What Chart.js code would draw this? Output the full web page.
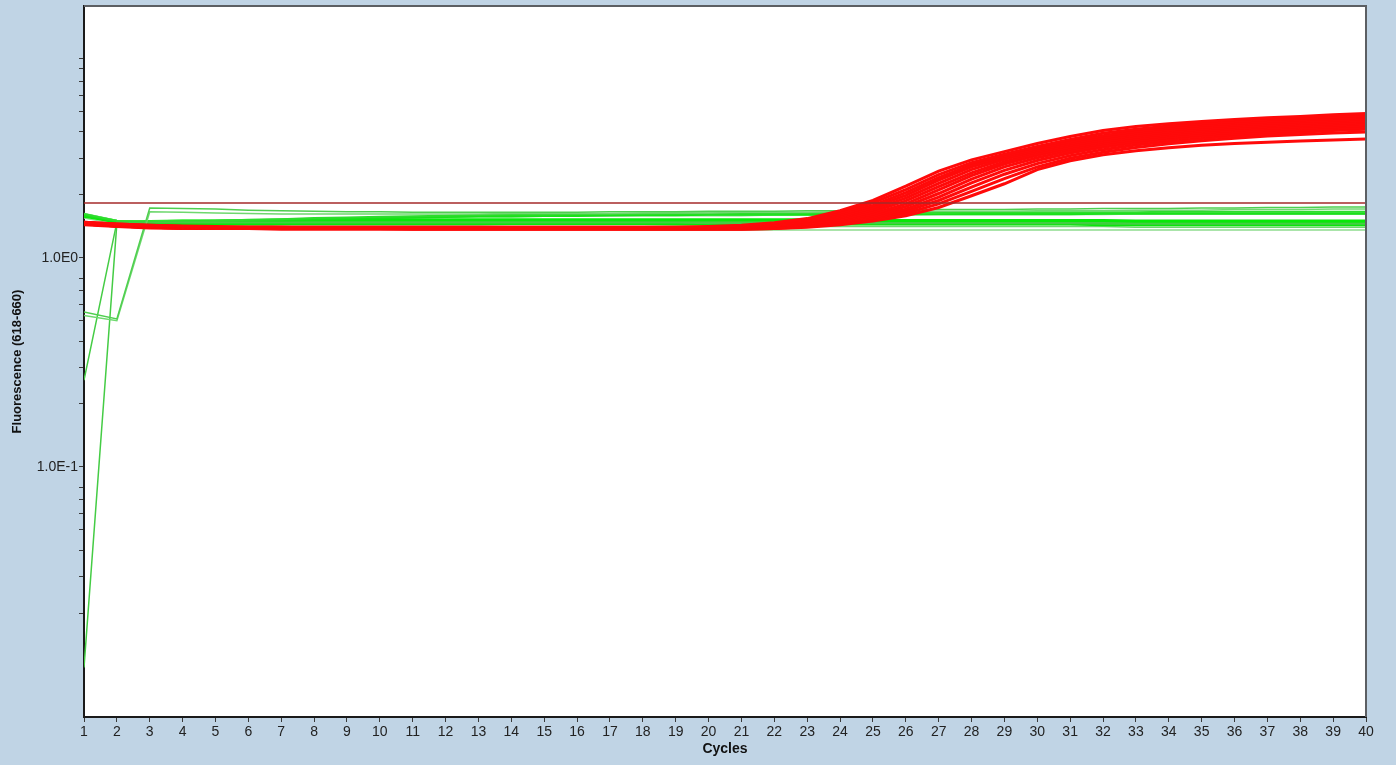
<!DOCTYPE html>
<html>
<head>
<meta charset="utf-8">
<title>Fluorescence (618-660)</title>
<script src="https://cdn.jsdelivr.net/npm/chart.js@4.4.1/dist/chart.umd.min.js"></script>
<style>
  html, body { margin: 0; padding: 0; background: #c0d4e5; overflow: hidden; }
  #wrap { width: 1396px; height: 765px; }
</style>
</head>
<body>
<div id="wrap"><canvas id="ampChart" width="1396" height="765"></canvas></div>
<script>
// cycles 1..40
const cycles = [1,2,3,4,5,6,7,8,9,10,11,12,13,14,15,16,17,18,19,20,21,22,23,24,25,26,27,28,29,30,31,32,33,34,35,36,37,38,39,40];

// y axis ticks (log), only decades get a label
const yTicks = [0.02,0.03,0.04,0.05,0.06,0.07,0.08,0.1,0.2,0.3,0.4,0.5,0.6,0.7,0.8,1,2,3,4,5,6,7,8,9];
const yLabels = { 1: '1.0E0', 0.1: '1.0E-1' };

const threshold = 1.83;

// positive samples (red)
const red1  = [1.48,1.45,1.43,1.42,1.41,1.40,1.40,1.40,1.40,1.40,1.40,1.40,1.40,1.40,1.40,1.40,1.40,1.40,1.40,1.41,1.43,1.47,1.54,1.68,1.88,2.20,2.60,2.94,3.22,3.52,3.80,4.06,4.24,4.38,4.49,4.58,4.67,4.74,4.83,4.90];
const red2  = [1.48,1.45,1.43,1.41,1.40,1.40,1.40,1.40,1.40,1.40,1.40,1.40,1.40,1.40,1.40,1.40,1.40,1.40,1.40,1.40,1.42,1.46,1.52,1.64,1.83,2.12,2.50,2.85,3.13,3.41,3.68,3.94,4.12,4.27,4.39,4.49,4.58,4.65,4.73,4.79];
const red3  = [1.47,1.44,1.42,1.41,1.40,1.40,1.40,1.39,1.39,1.39,1.39,1.39,1.39,1.39,1.39,1.39,1.39,1.39,1.39,1.40,1.41,1.44,1.50,1.61,1.78,2.05,2.42,2.78,3.07,3.34,3.60,3.84,4.03,4.18,4.30,4.40,4.49,4.57,4.64,4.71];
const red4  = [1.47,1.44,1.42,1.41,1.40,1.39,1.39,1.39,1.39,1.39,1.39,1.39,1.39,1.39,1.39,1.39,1.39,1.39,1.39,1.39,1.40,1.43,1.49,1.58,1.74,1.99,2.35,2.72,3.02,3.28,3.53,3.76,3.94,4.09,4.21,4.31,4.40,4.48,4.55,4.62];
const red5  = [1.47,1.44,1.42,1.40,1.39,1.39,1.39,1.39,1.39,1.39,1.39,1.39,1.39,1.39,1.39,1.39,1.39,1.39,1.39,1.39,1.40,1.42,1.48,1.56,1.70,1.93,2.27,2.64,2.96,3.22,3.46,3.68,3.86,4.01,4.13,4.23,4.32,4.40,4.47,4.54];
const red6  = [1.46,1.43,1.41,1.40,1.39,1.39,1.39,1.39,1.39,1.39,1.39,1.39,1.39,1.39,1.39,1.39,1.39,1.39,1.39,1.39,1.39,1.42,1.46,1.53,1.66,1.87,2.19,2.55,2.88,3.15,3.39,3.60,3.78,3.93,4.05,4.15,4.24,4.32,4.39,4.46];
const red7  = [1.46,1.43,1.41,1.40,1.39,1.39,1.39,1.38,1.38,1.38,1.38,1.38,1.38,1.38,1.38,1.38,1.38,1.38,1.38,1.39,1.39,1.41,1.45,1.51,1.62,1.81,2.11,2.47,2.81,3.09,3.33,3.53,3.70,3.85,3.97,4.07,4.16,4.24,4.31,4.38];
const red8  = [1.46,1.43,1.41,1.40,1.39,1.38,1.38,1.38,1.38,1.38,1.38,1.38,1.38,1.38,1.38,1.38,1.38,1.38,1.38,1.38,1.38,1.40,1.44,1.49,1.59,1.76,2.03,2.38,2.72,3.01,3.25,3.45,3.62,3.77,3.89,3.99,4.08,4.16,4.23,4.30];
const red9  = [1.45,1.42,1.40,1.39,1.38,1.38,1.38,1.38,1.38,1.38,1.38,1.38,1.38,1.38,1.38,1.38,1.38,1.38,1.38,1.38,1.38,1.39,1.43,1.48,1.56,1.71,1.95,2.28,2.62,2.92,3.17,3.38,3.55,3.69,3.81,3.91,4.00,4.08,4.15,4.21];
const red10 = [1.45,1.42,1.40,1.39,1.38,1.38,1.38,1.38,1.38,1.38,1.38,1.38,1.38,1.38,1.38,1.38,1.38,1.38,1.38,1.38,1.38,1.39,1.42,1.46,1.54,1.67,1.88,2.18,2.51,2.82,3.08,3.29,3.46,3.60,3.72,3.82,3.91,3.99,4.06,4.12];
const red11 = [1.45,1.42,1.40,1.39,1.38,1.38,1.38,1.38,1.38,1.38,1.37,1.37,1.37,1.37,1.37,1.37,1.37,1.37,1.37,1.37,1.37,1.38,1.41,1.45,1.52,1.63,1.81,2.08,2.39,2.72,2.99,3.20,3.37,3.51,3.63,3.73,3.82,3.89,3.95,4.00];
const red12 = [1.44,1.41,1.39,1.38,1.38,1.38,1.37,1.37,1.37,1.37,1.37,1.37,1.37,1.37,1.37,1.37,1.37,1.37,1.37,1.37,1.37,1.38,1.40,1.44,1.50,1.59,1.74,1.98,2.26,2.64,2.91,3.11,3.25,3.36,3.45,3.52,3.57,3.62,3.66,3.70];

// negative samples (green)
const green1  = [0.55,0.51,1.73,1.72,1.71,1.69,1.68,1.67,1.66,1.66,1.65,1.65,1.65,1.65,1.65,1.65,1.66,1.66,1.66,1.67,1.67,1.67,1.68,1.68,1.69,1.69,1.70,1.70,1.70,1.71,1.71,1.72,1.72,1.72,1.73,1.73,1.74,1.74,1.75,1.75];
const green2  = [0.53,0.50,1.66,1.65,1.64,1.63,1.62,1.62,1.62,1.62,1.62,1.62,1.62,1.63,1.63,1.63,1.63,1.64,1.64,1.64,1.65,1.65,1.65,1.66,1.66,1.66,1.67,1.67,1.67,1.68,1.68,1.68,1.69,1.69,1.69,1.70,1.70,1.70,1.71,1.71];
const green3  = [0.26,1.48,1.48,1.48,1.48,1.48,1.48,1.48,1.48,1.48,1.48,1.48,1.48,1.48,1.48,1.48,1.48,1.48,1.48,1.48,1.48,1.48,1.48,1.47,1.47,1.47,1.47,1.47,1.47,1.47,1.47,1.47,1.46,1.46,1.46,1.46,1.46,1.46,1.46,1.46];
const green4  = [0.011,1.46,1.47,1.47,1.47,1.47,1.47,1.47,1.47,1.47,1.47,1.47,1.47,1.47,1.47,1.47,1.47,1.47,1.47,1.46,1.46,1.46,1.46,1.46,1.46,1.46,1.46,1.46,1.46,1.46,1.46,1.45,1.45,1.45,1.45,1.45,1.45,1.45,1.45,1.45];
const green5  = [1.62,1.50,1.48,1.49,1.50,1.52,1.53,1.55,1.56,1.57,1.58,1.59,1.60,1.61,1.61,1.62,1.62,1.62,1.63,1.63,1.63,1.63,1.64,1.64,1.64,1.64,1.64,1.65,1.65,1.65,1.65,1.65,1.65,1.66,1.66,1.66,1.66,1.66,1.66,1.66];
const green6  = [1.60,1.49,1.48,1.49,1.50,1.51,1.52,1.53,1.54,1.55,1.56,1.57,1.58,1.58,1.59,1.59,1.60,1.60,1.60,1.61,1.61,1.61,1.61,1.61,1.62,1.62,1.62,1.62,1.62,1.62,1.62,1.63,1.63,1.63,1.63,1.63,1.63,1.63,1.63,1.63];
const green7  = [1.63,1.51,1.49,1.50,1.51,1.52,1.53,1.54,1.55,1.55,1.56,1.56,1.57,1.57,1.58,1.58,1.58,1.59,1.59,1.59,1.59,1.60,1.60,1.60,1.60,1.60,1.61,1.61,1.61,1.61,1.61,1.61,1.62,1.62,1.62,1.62,1.62,1.62,1.62,1.62];
const green8  = [1.58,1.49,1.49,1.50,1.50,1.51,1.51,1.52,1.52,1.52,1.52,1.52,1.52,1.52,1.52,1.52,1.52,1.52,1.52,1.52,1.52,1.52,1.52,1.51,1.51,1.51,1.51,1.51,1.51,1.51,1.51,1.51,1.50,1.50,1.50,1.50,1.50,1.50,1.50,1.50];
const green9  = [1.60,1.48,1.46,1.46,1.46,1.46,1.46,1.46,1.46,1.46,1.46,1.46,1.46,1.46,1.46,1.46,1.46,1.46,1.45,1.45,1.45,1.45,1.45,1.45,1.45,1.45,1.45,1.45,1.45,1.45,1.45,1.44,1.44,1.44,1.44,1.44,1.44,1.44,1.44,1.44];
const green10 = [1.55,1.45,1.42,1.41,1.40,1.40,1.39,1.39,1.38,1.38,1.38,1.37,1.37,1.37,1.37,1.37,1.37,1.36,1.36,1.36,1.36,1.36,1.36,1.36,1.36,1.36,1.36,1.36,1.36,1.36,1.36,1.36,1.36,1.36,1.36,1.36,1.36,1.36,1.36,1.36];
const green11 = [1.61,1.50,1.49,1.50,1.50,1.50,1.51,1.51,1.51,1.51,1.51,1.51,1.51,1.51,1.51,1.51,1.50,1.50,1.50,1.50,1.50,1.50,1.50,1.50,1.49,1.49,1.49,1.49,1.49,1.49,1.49,1.49,1.48,1.48,1.48,1.48,1.48,1.48,1.48,1.48];
const green12 = [1.59,1.47,1.45,1.44,1.43,1.43,1.42,1.42,1.42,1.42,1.42,1.42,1.42,1.41,1.41,1.41,1.41,1.41,1.41,1.41,1.41,1.41,1.41,1.41,1.41,1.41,1.41,1.41,1.41,1.41,1.41,1.41,1.40,1.40,1.40,1.40,1.40,1.40,1.40,1.40];
const green13 = [1.60,1.49,1.47,1.47,1.47,1.47,1.47,1.47,1.47,1.47,1.47,1.47,1.47,1.47,1.47,1.47,1.47,1.47,1.47,1.47,1.47,1.47,1.47,1.47,1.47,1.47,1.47,1.47,1.47,1.47,1.47,1.47,1.47,1.47,1.47,1.47,1.47,1.47,1.47,1.47];

const redSeries = [red1, red2, red3, red4, red5, red6, red7, red8, red9, red10, red11, red12];
const greenSeries = [green1, green2, green3, green4, green5, green6, green7, green8, green9, green10, green11, green12, green13];
const greenColors = ['#4fcf4f', '#6fd86f', '#44cc44', '#44cc44', '#2ddd2d', '#19e019', '#7ee07e', '#08e808', '#08e808', '#8fdc8f', '#19e019', '#70d470', '#10e410'];
const greenWidths = [1.5, 1.5, 1.5, 1.5, 2, 2.5, 1.5, 3, 3, 1.5, 2.5, 1.5, 3];

function lineSet(values, color, width) {
  return {
    data: values,
    borderColor: color,
    borderWidth: width,
    pointRadius: 0,
    tension: 0,
    fill: false
  };
}

// first dataset is drawn on top: threshold, then red, then green underneath
const datasets = [];
datasets.push({
  data: [{ x: 1, y: threshold }, { x: 40, y: threshold }],
  borderColor: '#a52a2a',
  borderWidth: 1.5,
  pointRadius: 0,
  fill: false
});
redSeries.forEach(s => datasets.push(lineSet(s, '#ff0a0a', 3)));
greenSeries.forEach((s, i) => datasets.push(lineSet(s, greenColors[i], greenWidths[i])));

const plotFrame = {
  id: 'plotFrame',
  beforeDraw(chart) {
    const { ctx, chartArea: a } = chart;
    ctx.save();
    ctx.fillStyle = '#ffffff';
    ctx.fillRect(a.left, a.top, a.right - a.left, a.bottom - a.top);
    ctx.restore();
  },
  afterDraw(chart) {
    const { ctx, chartArea: a } = chart;
    ctx.save();
    ctx.strokeStyle = '#5c5f63';
    ctx.lineWidth = 2;
    ctx.beginPath();
    ctx.moveTo(a.left, a.top);
    ctx.lineTo(a.right, a.top);
    ctx.lineTo(a.right, a.bottom);
    ctx.stroke();
    ctx.restore();
  }
};

const ctx = document.getElementById('ampChart').getContext('2d');
new Chart(ctx, {
  type: 'line',
  data: { labels: cycles, datasets: datasets },
  plugins: [plotFrame],
  options: {
    responsive: false,
    animation: false,
    events: [],
    layout: { padding: { top: 6, right: 30, left: 0, bottom: 0 } },
    plugins: { legend: { display: false }, tooltip: { enabled: false } },
    scales: {
      x: {
        type: 'linear',
        min: 1,
        max: 40,
        afterFit: scale => { scale.height = 48; },
        grid: { drawOnChartArea: false, drawTicks: true, tickLength: 5, color: '#3a3a3a' },
        border: { color: '#1a1a1a', width: 2 },
        ticks: {
          stepSize: 1,
          autoSkip: false,
          maxRotation: 0,
          padding: 2,
          color: '#222',
          font: { family: 'Liberation Sans, Arial, sans-serif', size: 14 }
        },
        title: {
          display: true,
          text: 'Cycles',
          color: '#111',
          padding: { top: 0, bottom: 7 },
          font: { family: 'Liberation Sans, Arial, sans-serif', size: 14, weight: 'bold' }
        }
      },
      y: {
        type: 'logarithmic',
        min: 0.00637,
        max: 16.0,
        afterFit: scale => {
          scale.width = 84;
          scale.paddingTop = 0;
          scale.paddingBottom = 0;
        },
        afterBuildTicks: scale => { scale.ticks = yTicks.map(v => ({ value: v })); },
        grid: { drawOnChartArea: false, drawTicks: true, tickLength: 5, color: '#3a3a3a' },
        border: { color: '#1a1a1a', width: 2 },
        ticks: {
          autoSkip: false,
          padding: 1,
          color: '#222',
          font: { family: 'Liberation Sans, Arial, sans-serif', size: 14 },
          callback: v => yLabels[v] || ''
        },
        title: {
          display: true,
          text: 'Fluorescence (618-660)',
          color: '#111',
          padding: { top: 10, bottom: 0 },
          font: { family: 'Liberation Sans, Arial, sans-serif', size: 13, weight: 'bold' }
        }
      }
    }
  }
});
</script>
</body>
</html>
